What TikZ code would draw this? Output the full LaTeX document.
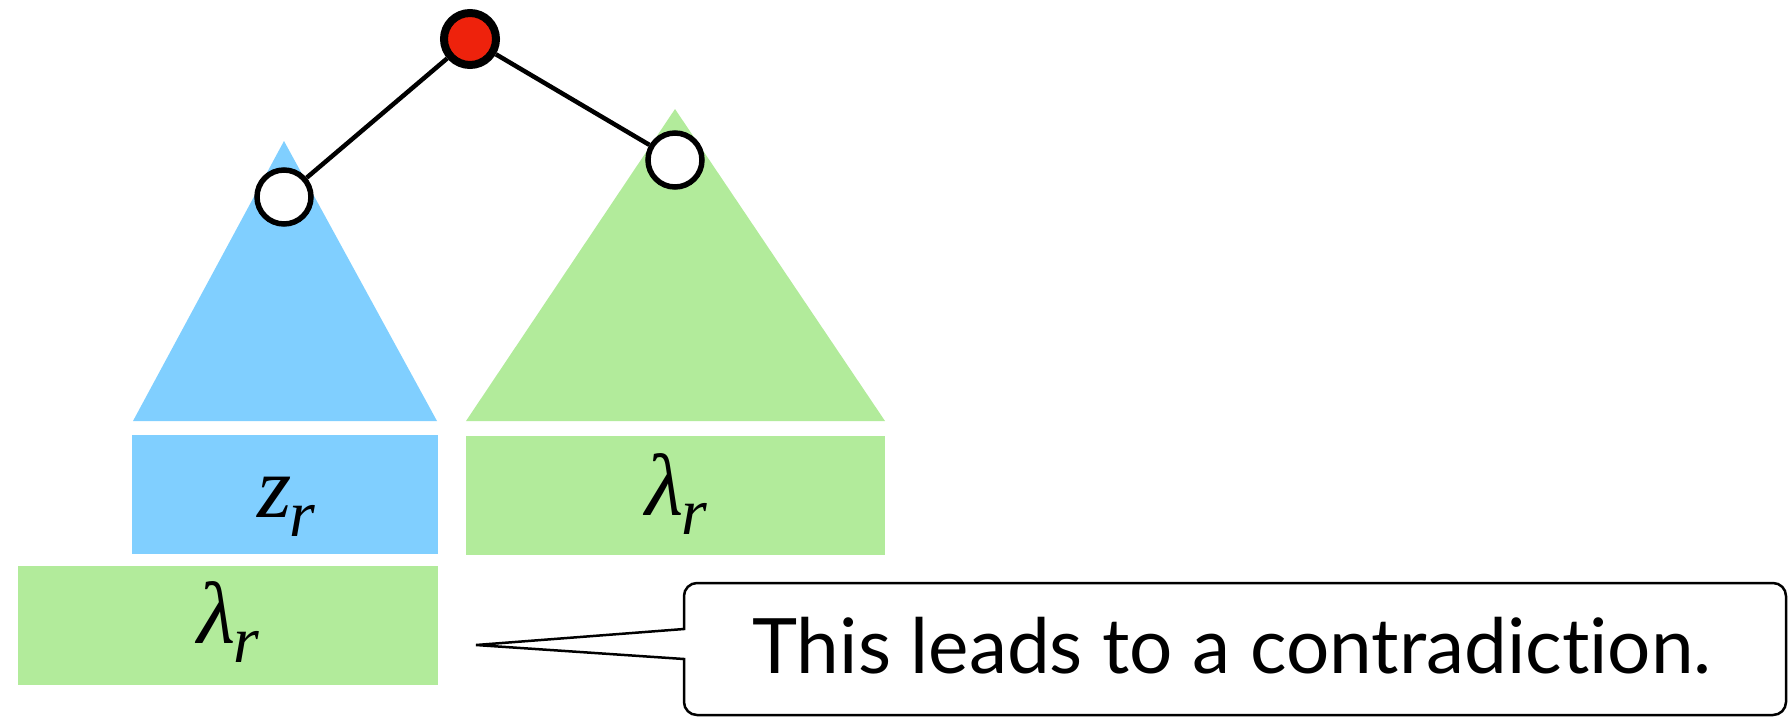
\documentclass[tikz,border=0pt]{standalone}
\usepackage{fontspec}
\setmainfont{Liberation Serif}
\newfontfamily\callfont{Lato}[Ligatures={NoCommon,NoRare,NoDiscretionary}]
\definecolor{cblue}{RGB}{128,207,255}
\definecolor{cgreen}{RGB}{178,235,155}
\definecolor{cred}{RGB}{238,34,12}
\newcommand{\vr}[1]{{\fontsize{88}{90}\selectfont\itshape #1\kern-2pt\raisebox{-19pt}{\fontsize{66}{70}\selectfont r}}}
\begin{document}
\begin{tikzpicture}[x=1pt,y=-1pt,
  treenode/.style={circle,draw=black,line width=5.5pt,fill=white,minimum size=54pt,inner sep=0pt},
  rootnode/.style={treenode,fill=cred,line width=8pt,minimum size=52pt},
  edge/.style={line width=4.5pt},
  label/.style={anchor=base,inner sep=0pt}]
\useasboundingbox (0,0) rectangle (1790,718);
% triangles
\fill[cblue] (284,141) -- (437,421) -- (133,421) -- cycle;
\fill[cgreen] (675,109) -- (885,421) -- (466,421) -- cycle;
% rectangles
\fill[cblue] (132,435) rectangle (438,554);
\fill[cgreen] (466,436) rectangle (885,555);
\fill[cgreen] (18,566) rectangle (438,685);
\node[label] (zr) at (286,517) {\vr{z}};
\node[label] (lr1) at (676,515) {\vr{λ}};
\node[label] (lr2) at (228,643) {\vr{λ}};
% tree
\node[rootnode] (root) at (470,39) {};
\node[treenode] (left) at (284,197) {};
\node[treenode] (right) at (675,160) {};
\draw[edge] (root) -- (left);
\draw[edge] (root) -- (right);
% callout
\coordinate (tip) at (476,645);
\draw[line width=2.5pt,fill=white,line join=miter]
  (684,629) [rounded corners=13pt] -- (684,583) -- (1786,583) -- (1786,715) -- (684,715) [sharp corners] -- (684,659) -- (tip) -- cycle;
\node[label] (msg) at (1232,673) {\resizebox{959pt}{!}{\callfont This leads to a contradiction.}};
\end{tikzpicture}
\end{document}
